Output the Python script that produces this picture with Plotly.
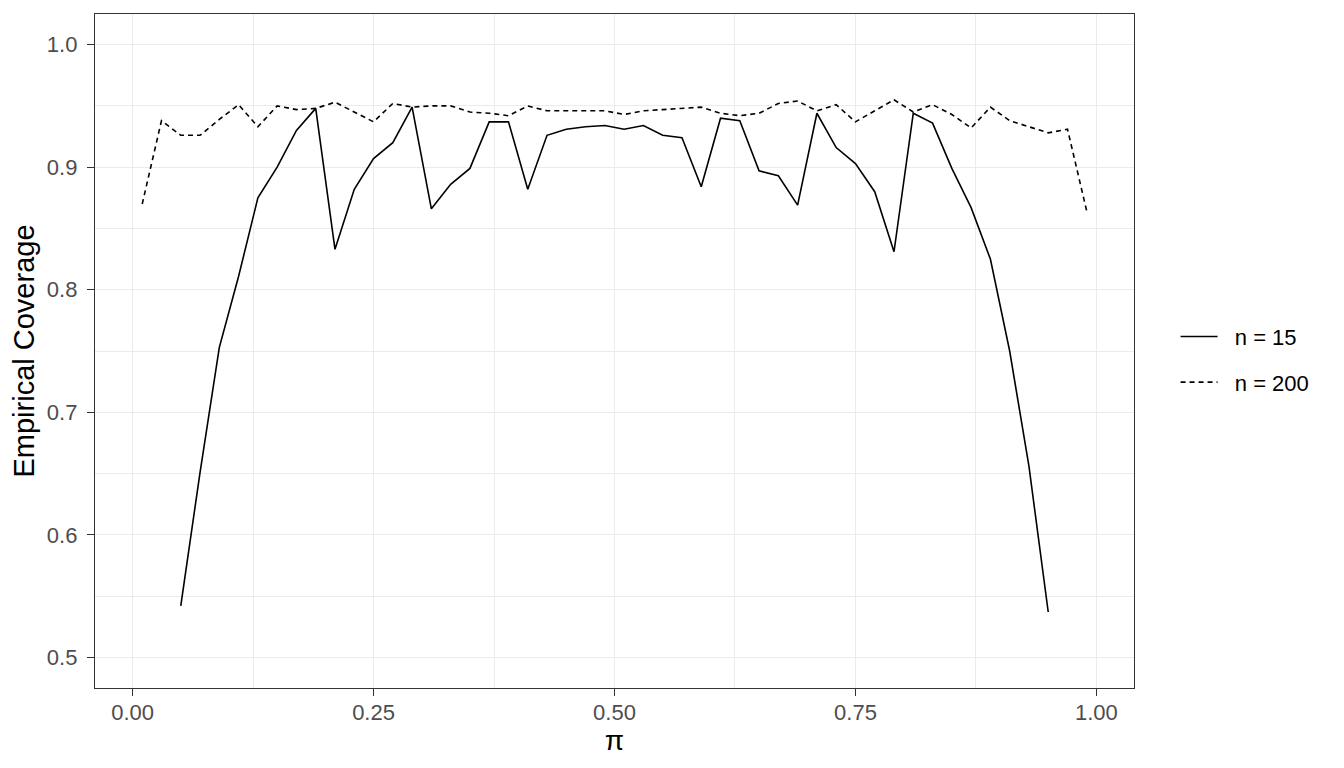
import plotly.graph_objects as go

pi_200 = [0.01, 0.03, 0.05, 0.07, 0.09, 0.11, 0.13, 0.15, 0.17, 0.19,
          0.21, 0.23, 0.25, 0.27, 0.29, 0.31, 0.33, 0.35, 0.37, 0.39,
          0.41, 0.43, 0.45, 0.47, 0.49, 0.51, 0.53, 0.55, 0.57, 0.59,
          0.61, 0.63, 0.65, 0.67, 0.69, 0.71, 0.73, 0.75, 0.77, 0.79,
          0.81, 0.83, 0.85, 0.87, 0.89, 0.91, 0.93, 0.95, 0.97, 0.99]
cov_200 = [0.870, 0.938, 0.926, 0.926, 0.939, 0.951, 0.933, 0.950, 0.947, 0.948,
           0.953, 0.945, 0.937, 0.952, 0.949, 0.950, 0.950, 0.945, 0.944, 0.942,
           0.950, 0.946, 0.946, 0.946, 0.946, 0.943, 0.946, 0.947, 0.948, 0.949,
           0.944, 0.942, 0.944, 0.952, 0.954, 0.946, 0.951, 0.937, 0.946, 0.955,
           0.945, 0.951, 0.943, 0.932, 0.949, 0.938, 0.933, 0.928, 0.931, 0.864]

pi_15 = [0.05, 0.07, 0.09, 0.11, 0.13, 0.15, 0.17, 0.19, 0.21, 0.23,
         0.25, 0.27, 0.29, 0.31, 0.33, 0.35, 0.37, 0.39, 0.41, 0.43,
         0.45, 0.47, 0.49, 0.51, 0.53, 0.55, 0.57, 0.59, 0.61, 0.63,
         0.65, 0.67, 0.69, 0.71, 0.73, 0.75, 0.77, 0.79, 0.81, 0.83,
         0.85, 0.87, 0.89, 0.91, 0.93, 0.95]
cov_15 = [0.542, 0.651, 0.753, 0.811, 0.875, 0.900, 0.930, 0.948, 0.833, 0.882,
          0.907, 0.920, 0.949, 0.866, 0.886, 0.899, 0.937, 0.937, 0.882, 0.926,
          0.931, 0.933, 0.934, 0.931, 0.934, 0.926, 0.924, 0.884, 0.940, 0.938,
          0.897, 0.893, 0.869, 0.944, 0.916, 0.903, 0.880, 0.831, 0.944, 0.936,
          0.899, 0.867, 0.825, 0.750, 0.656, 0.537]

series_names = ["n = 15", "n = 200"]

x_ticks = [0.0, 0.25, 0.5, 0.75, 1.0]
x_tick_labels = ["0.00", "0.25", "0.50", "0.75", "1.00"]
x_minor = [0.125, 0.375, 0.625, 0.875]
y_ticks = [0.5, 0.6, 0.7, 0.8, 0.9, 1.0]
y_tick_labels = ["0.5", "0.6", "0.7", "0.8", "0.9", "1.0"]
y_minor = [0.55, 0.65, 0.75, 0.85, 0.95]

FONT = "Liberation Sans, Arial, sans-serif"
PAD = "\u00a0\u00a0"

fig = go.Figure()
fig.add_trace(go.Scatter(x=pi_15, y=cov_15, mode="lines", name=PAD + series_names[0],
                         legendgroup="a",
                         line=dict(color="black", width=1.6)))
fig.add_trace(go.Scatter(x=pi_200, y=cov_200, mode="lines", name=PAD + series_names[1],
                         legendgroup="b",
                         line=dict(color="black", width=1.6, dash="5px,4px")))

axis_common = dict(
    showline=True, linecolor="#333333", linewidth=1.3, mirror=True,
    ticks="outside", ticklen=7, tickcolor="#333333", tickwidth=1.3,
    showgrid=True, gridcolor="#EBEBEB", gridwidth=1.4,
    zeroline=False,
    tickfont=dict(family=FONT, size=22, color="#4D4D4D"),
)

fig.update_xaxes(
    range=[-0.039, 1.039], tickvals=x_ticks, ticktext=x_tick_labels,
    minor=dict(showgrid=True, gridcolor="#EBEBEB", gridwidth=0.7,
               tickvals=x_minor, ticks=""),
    title=dict(text="π", font=dict(family=FONT, size=28, color="black"), standoff=0),
    ticklabelstandoff=-3,
    **axis_common,
)
fig.update_yaxes(
    range=[0.475, 1.025], tickvals=y_ticks, ticktext=y_tick_labels,
    minor=dict(showgrid=True, gridcolor="#EBEBEB", gridwidth=0.7,
               tickvals=y_minor, ticks=""),
    title=dict(text="Empirical Coverage", font=dict(family=FONT, size=29, color="black"), standoff=10),
    ticklabelstandoff=5,
    **axis_common,
)

fig.update_layout(
    width=1336, height=760,
    margin=dict(l=87, r=210, t=6, b=80),
    plot_bgcolor="white", paper_bgcolor="white",
    font=dict(family=FONT, size=22, color="black"),
    legend=dict(x=1.04, xanchor="left", y=0.487, yanchor="middle",
                font=dict(family=FONT, size=22, color="black"),
                bgcolor="rgba(0,0,0,0)", tracegroupgap=14,
                traceorder="grouped", itemwidth=37),
    showlegend=True,
)

fig.write_html("out.html")
